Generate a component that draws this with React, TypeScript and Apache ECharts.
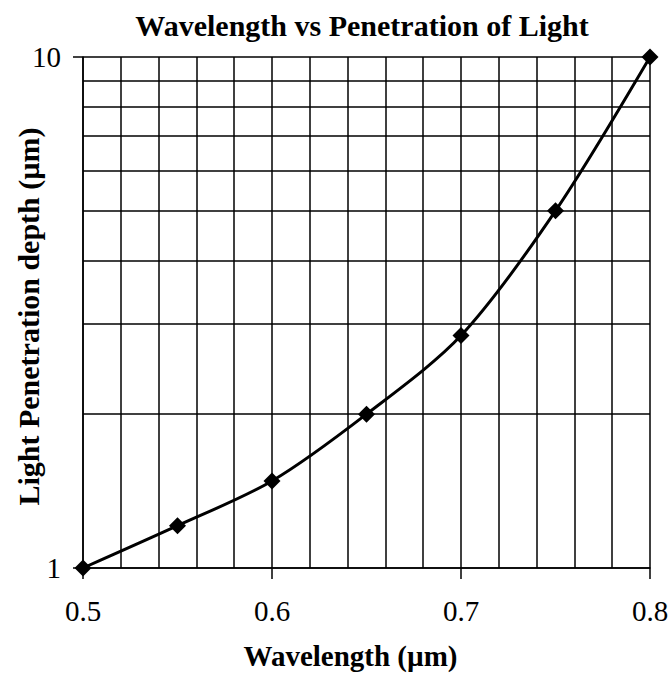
import React, { useEffect, useRef } from "react";
import * as echarts from "echarts";

const wavelengths = [0.5, 0.55, 0.6, 0.65, 0.7, 0.75, 0.8];
const depths = [1.0, 1.21, 1.48, 2.0, 2.85, 5.0, 10.0];
const minorGridValues = [2, 3, 4, 5, 6, 7, 8, 9];
const titleText = "Wavelength vs Penetration of Light";
const xName = "Wavelength (µm)";
const yName = "Light Penetration depth (µm)";

const serif = "'Liberation Serif', 'DejaVu Serif', serif";

export default function App() {
  const ref = useRef<HTMLDivElement>(null);
  useEffect(() => {
    if (!ref.current) return;
    const chart = echarts.init(ref.current, undefined, { renderer: "svg" });
    chart.setOption({
      animation: false,
      backgroundColor: "#ffffff",
      title: {
        text: titleText,
        left: 357,
        textAlign: "center",
        top: 5,
        textStyle: { fontFamily: serif, fontWeight: "bold", fontSize: 30, color: "#000" },
      },
      grid: { left: 83, right: 22, top: 57, bottom: 105, outerBoundsMode: "none", containLabel: false },
      xAxis: {
        type: "value",
        min: 0.5,
        max: 0.8,
        interval: 0.1,
        name: xName,
        nameLocation: "middle",
        nameGap: 73,
        nameMoveOverlap: false,
        nameTextStyle: {
          fontFamily: serif,
          fontWeight: "bold",
          fontSize: 29,
          color: "#000",
          padding: [0, 32, 0, 0],
        },
        axisLine: { show: true, lineStyle: { color: "#000", width: 1.5 } },
        axisTick: { show: true, length: 11, lineStyle: { color: "#000", width: 1.5 } },
        axisLabel: {
          fontFamily: serif,
          fontSize: 29,
          color: "#000",
          margin: 28,
          formatter: (v: number) => v.toFixed(1),
        },
        splitLine: { show: true, lineStyle: { color: "#000", width: 1.5 } },
        minorTick: { show: false, splitNumber: 5 },
        minorSplitLine: { show: true, lineStyle: { color: "#000", width: 1.5 } },
      },
      yAxis: {
        type: "log",
        logBase: 10,
        min: 1,
        max: 10,
        name: yName,
        nameLocation: "middle",
        nameGap: 40,
        nameMoveOverlap: false,
        nameTextStyle: {
          fontFamily: serif,
          fontWeight: "bold",
          fontSize: 30,
          color: "#000",
          padding: [0, 8, 0, 0],
        },
        axisLine: { show: true, lineStyle: { color: "#000", width: 1.5 } },
        axisTick: { show: true, length: 10, lineStyle: { color: "#000", width: 1.5 } },
        axisLabel: { fontFamily: serif, fontSize: 29, color: "#000", margin: 22 },
        splitLine: { show: true, lineStyle: { color: "#000", width: 1.5 } },
      },
      series: [
        {
          type: "line",
          data: wavelengths.map((w, i) => [w, depths[i]]),
          smooth: 0.3,
          symbol: "diamond",
          symbolSize: 17,
          itemStyle: { color: "#000" },
          lineStyle: { color: "#000", width: 3 },
          markLine: {
            silent: true,
            symbol: ["none", "none"],
            label: { show: false },
            lineStyle: { color: "#000", width: 1.5, type: "solid" },
            data: minorGridValues.map((v) => ({ yAxis: v })),
          },
          z: 5,
        },
      ],
    });
    return () => chart.dispose();
  }, []);
  return (
    <div
      ref={ref}
      style={{ position: "absolute", left: 0, top: 0, width: 672, height: 673 }}
    />
  );
}
